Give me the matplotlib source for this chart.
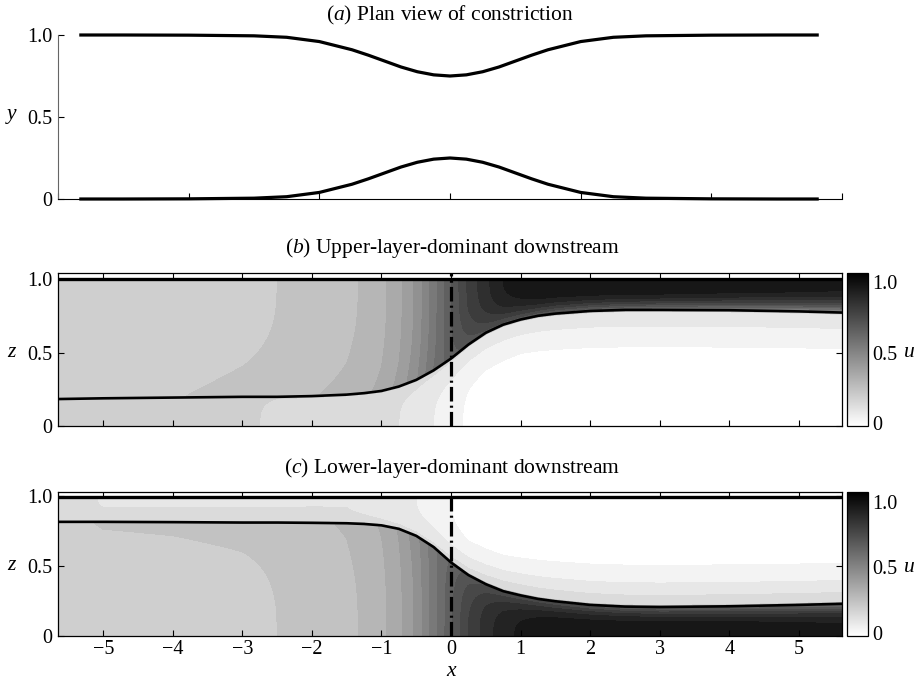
import numpy as np
import matplotlib
matplotlib.use('Agg')
import matplotlib.pyplot as plt
from matplotlib.colors import Normalize
from matplotlib.cm import ScalarMappable

plt.rcParams['font.family'] = 'Liberation Serif'
plt.rcParams['mathtext.fontset'] = 'custom'
plt.rcParams['mathtext.rm'] = 'Liberation Serif'
plt.rcParams['mathtext.it'] = 'Liberation Serif:italic'
plt.rcParams['font.size'] = 15.5
plt.rcParams['xtick.labelsize'] = 14.5
plt.rcParams['ytick.labelsize'] = 14.5
plt.rcParams['lines.scale_dashes'] = False

xs = np.array([-5.65, -5, -4, -3, -2.5, -2, -1.5, -1.25, -1, -0.75, -0.5, -0.25, 0,
               0.25, 0.5, 0.75, 1, 1.25, 1.5, 2, 2.5, 3, 4, 5, 5.62])

# (a) half-constriction of the channel walls
wall = np.array([0, 0, 0.001, 0.005, 0.014, 0.04, 0.09, 0.123, 0.159, 0.195, 0.224, 0.243, 0.25,
                 0.243, 0.224, 0.195, 0.159, 0.123, 0.09, 0.04, 0.014, 0.005, 0.001, 0, 0])

# (b) upper-layer-dominant: interface, surface, layer speeds
h_b = np.array([0.185, 0.19, 0.195, 0.2, 0.2, 0.205, 0.215, 0.225, 0.24, 0.27, 0.315, 0.38, 0.46,
                0.555, 0.635, 0.69, 0.725, 0.75, 0.765, 0.783, 0.79, 0.79, 0.788, 0.78, 0.772])
surf_b = 1.0
utop_b = np.array([0.21, 0.21, 0.22, 0.235, 0.25, 0.27, 0.29, 0.305, 0.335, 0.385, 0.46, 0.575, 0.7,
                   0.81, 0.885, 0.95, 0.98, 1.0, 1.0, 1.0, 1.0, 1.0, 0.99, 0.98, 0.97])
uui_b = np.array([0.21, 0.22, 0.245, 0.27, 0.28, 0.295, 0.315, 0.335, 0.365, 0.415, 0.49, 0.6, 0.68,
                  0.72, 0.74, 0.74, 0.73, 0.72, 0.7, 0.68, 0.66, 0.64, 0.6, 0.57, 0.55])
uli_b = np.array([0.21, 0.21, 0.21, 0.205, 0.2, 0.19, 0.185, 0.18, 0.175, 0.17, 0.165, 0.16, 0.155,
                  0.15, 0.15, 0.15, 0.15, 0.15, 0.15, 0.15, 0.15, 0.15, 0.15, 0.15, 0.15])
ubot_b = np.array([0.21, 0.21, 0.21, 0.205, 0.195, 0.185, 0.18, 0.175, 0.165, 0.15, 0.13, 0.1, 0.07,
                   0.04, 0.02, 0.01, 0, 0, 0, 0, 0, 0, 0, 0, 0])

# (c) lower-layer-dominant
h_c = np.array([0.815, 0.815, 0.813, 0.81, 0.81, 0.808, 0.805, 0.8, 0.79, 0.765, 0.715, 0.635, 0.525,
                0.435, 0.37, 0.32, 0.29, 0.265, 0.248, 0.222, 0.21, 0.207, 0.212, 0.222, 0.23])
surf_c = 0.99
utop_c = np.array([0.17, 0.147, 0.147, 0.147, 0.147, 0.148, 0.148, 0.14, 0.13, 0.12, 0.1, 0.08, 0.05,
                   0.02, 0.01, 0, 0, 0, 0, 0, 0, 0, 0, 0, 0])
uui_c = np.array([0.17, 0.18, 0.18, 0.18, 0.18, 0.18, 0.175, 0.17, 0.165, 0.16, 0.16, 0.16, 0.17,
                  0.18, 0.19, 0.2, 0.2, 0.2, 0.2, 0.2, 0.2, 0.2, 0.2, 0.2, 0.2])
uli_c = np.array([0.23, 0.255, 0.26, 0.27, 0.275, 0.29, 0.305, 0.325, 0.355, 0.405, 0.48, 0.58, 0.66,
                  0.72, 0.75, 0.76, 0.76, 0.76, 0.75, 0.74, 0.72, 0.71, 0.69, 0.67, 0.65])
ubot_c = np.array([0.22, 0.22, 0.225, 0.235, 0.25, 0.27, 0.29, 0.305, 0.335, 0.385, 0.46, 0.575, 0.69,
                   0.8, 0.875, 0.93, 0.96, 0.98, 0.99, 0.99, 0.99, 0.99, 0.99, 0.98, 0.97])

xticks = [-5, -4, -3, -2, -1, 0, 1, 2, 3, 4, 5]
zticks = [0, 0.5, 1.0]
zlabels = ['0', '0.5', '1.0']
levels = np.arange(0, 1.06, 0.05)


def layer_field(h, surf, utop, uui, uli, ubot, p_up, p_lo, eps=0.012, n=30):
    # layer-following grid: rows hug the interface so the jump stays sharp
    s = np.linspace(0, 1, n)[:, None]
    z_lo = (h - eps) * s
    u_lo = ubot + (uli - ubot) * s ** p_lo
    z_up = h + eps + (surf - h - eps) * s
    u_up = utop + (uui - utop) * (1 - s) ** p_up
    Z = np.vstack([z_lo, z_up])
    U = np.vstack([u_lo, u_up])
    X = np.broadcast_to(xs, Z.shape)
    return X, Z, U


W, H = 919, 682
fig = plt.figure(figsize=(W / 100, H / 100), dpi=100)


def box(l, t, r, b):
    return [l / W, 1 - b / H, (r - l) / W, (b - t) / H]


# ---- (a) plan view
ax = fig.add_axes(box(58, 35, 842, 199))
ax.plot(xs, 1 - wall, 'k', lw=2.3, clip_on=False)
ax.plot(xs, wall, 'k', lw=2.3, clip_on=False)
ax.set_xlim(-6, 6)
ax.set_ylim(0, 1)
ax.spines['top'].set_visible(False)
ax.spines['right'].set_visible(False)
ax.spines['left'].set_color('#666666')
for sp in ax.spines.values():
    sp.set_linewidth(0.8)
ax.set_xticks([-6, -4, -2, 0, 2, 4, 6])
ax.set_xticklabels([])
ax.set_yticks(zticks)
ax.set_yticklabels(zlabels)
ax.tick_params(direction='in', length=4.5, width=0.8, pad=4)
fig.text(450 / W, 1 - 15.5 / H, r'($a$) Plan view of constriction', ha='center', va='center')
fig.text(12 / W, 1 - 117 / H, r'$y$', ha='center', va='center')

norm = Normalize(0.025, 1.07)
panels = [
    (box(58, 272.5, 842, 426.3), 1.044, h_b, surf_b, utop_b, uui_b, uli_b, ubot_b, 3, 3,
     r'($b$) Upper-layer-dominant downstream', 248),
    (box(58, 492.3, 842, 636), 1.026, h_c, surf_c, utop_c, uui_c, uli_c, ubot_c, 3, 3,
     r'($c$) Lower-layer-dominant downstream', 468.5),
]
cb_rects = [box(847, 272.5, 868, 426.3), box(847, 492.3, 868, 636)]

for i, (rect, ztop, h, surf, utop, uui, uli, ubot, pu, pl, title, ty) in enumerate(panels):
    ax = fig.add_axes(rect)
    X, Z, U = layer_field(h, surf, utop, uui, uli, ubot, pu, pl)
    ax.contourf(X, Z, U, levels=levels, cmap='gray_r', norm=norm)
    ax.plot(xs, h, 'k', lw=1.9)
    ax.axhline(surf, color='k', lw=2.4)
    ax.axvline(0, color='k', lw=2.3, dashes=(10.5, 3.0, 1.5, 3.0))
    ax.set_xlim(-5.65, 5.62)
    ax.set_ylim(0, ztop)
    ax.set_xticks(xticks)
    ax.set_yticks(zticks)
    ax.set_yticklabels(zlabels)
    ax.tick_params(direction='in', top=True, right=True, length=4.5, width=0.8, pad=4)
    for sp in ax.spines.values():
        sp.set_linewidth(0.9)
    if i == 0:
        ax.set_xticklabels([])
    else:
        ax.set_xticklabels(['\u2212%d' % -t if t < 0 else '%d' % t for t in xticks])
        ax.tick_params(axis='x', pad=3)
    fig.text(452 / W, 1 - ty / H, title, ha='center', va='center')
    # vertical-axis label beside 0.5
    y05 = ax.transData.transform((0, 0.5))[1]
    fig.text(12 / W, y05 / H, r'$z$', ha='center', va='center')

    cax = fig.add_axes(cb_rects[i])
    cb = fig.colorbar(ScalarMappable(norm=Normalize(-0.02, 1.07), cmap='gray_r'), cax=cax,
                      ticks=zticks)
    cb.ax.set_yticklabels(zlabels)
    cb.ax.tick_params(length=0, pad=3)
    cb.outline.set_linewidth(0.9)
    yc = cax.transData.transform((0, 0.5))[1]
    fig.text(909 / W, yc / H, r'$u$', ha='center', va='center')

fig.text(452 / W, 1 - 672 / H, r'$x$', ha='center', va='center')

fig.savefig('out.png', dpi=100)
